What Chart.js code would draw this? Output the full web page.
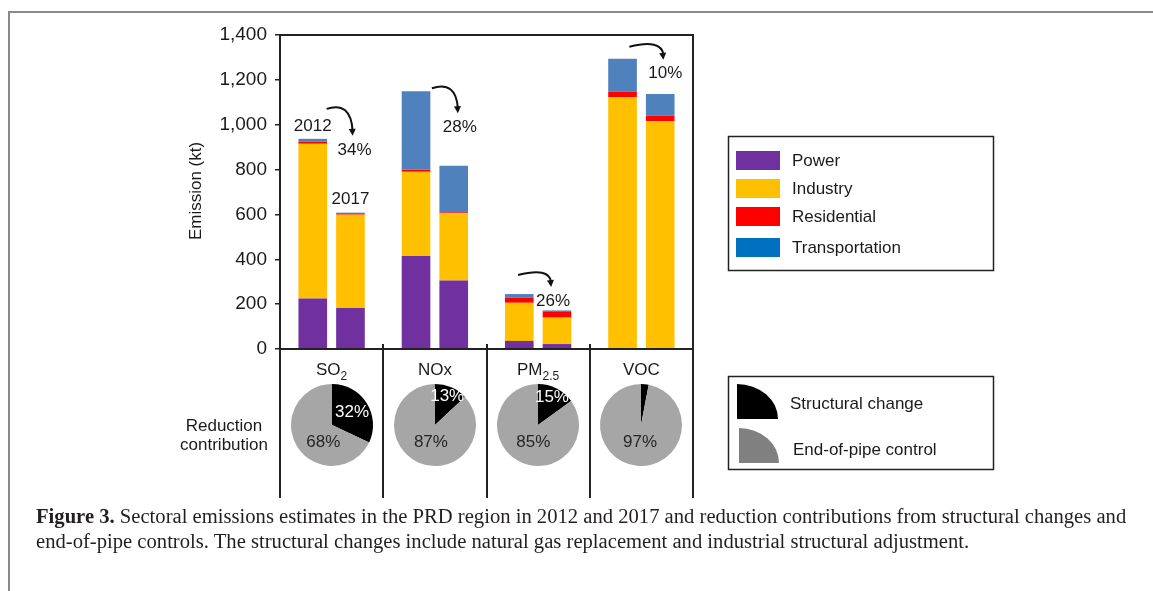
<!DOCTYPE html>
<html>
<head>
<meta charset="utf-8">
<script src="https://cdn.jsdelivr.net/npm/chart.js@4.4.1/dist/chart.umd.min.js"></script>
<style>
  html, body { margin: 0; padding: 0; background: #fff; }
  #wrap { position: relative; width: 1153px; height: 591px; overflow: hidden; }
  #main { position: absolute; left: 0; top: 0; }
  .pie { position: absolute; }
  .cap { position: absolute; left: 36px; white-space: nowrap; font-family: "Liberation Serif", serif;
         font-size: 20px; line-height: 24px; color: #231f20; transform-origin: 0 0; }
</style>
</head>
<body>
<div id="wrap">
  <canvas id="main" width="1153" height="591"></canvas>
  <canvas class="pie" id="pie0" width="100" height="100"></canvas>
  <canvas class="pie" id="pie1" width="100" height="100"></canvas>
  <canvas class="pie" id="pie2" width="100" height="100"></canvas>
  <canvas class="pie" id="pie3" width="100" height="100"></canvas>
  <div class="cap" id="cap1" style="top:504px"><b>Figure 3.</b> Sectoral emissions estimates in the PRD region in 2012 and 2017 and reduction contributions from structural changes and</div>
  <div class="cap" id="cap2" style="top:529px">end-of-pipe controls. The structural changes include natural gas replacement and industrial structural adjustment.</div>
</div>
<script>
// pollutant categories (display split into main text + subscript)
const pollutants = ["SO2", "NOx", "PM2.5", "VOC"];
const pollutantMain = ["SO", "NOx", "PM", "VOC"];
const pollutantSub = ["2", "", "2.5", ""];
const sectors = ["Power", "Industry", "Residential", "Transportation"];

// emissions, kt
const power2012 = [225, 415, 36, 0];
const industry2012 = [690, 375, 170, 1123];
const residential2012 = [10, 9, 23, 24];
const transport2012 = [12, 350, 16, 147];
const power2017 = [183, 305, 22, 0];
const industry2017 = [416, 300, 118, 1016];
const residential2017 = [6, 4, 25, 24];
const transport2017 = [3, 208, 7, 97];

const reductionLabels = ["34%", "28%", "26%", "10%"];

// reduction contribution, %
const structuralShare = [32, 13, 15, 3];
const endOfPipeShare = [68, 87, 85, 97];

const barColors = ["#7030a0", "#ffc000", "#ff0000", "#4f81bd"];
const legendColors = ["#7030a0", "#ffc000", "#ff0000", "#0070c0"];
const pieColors = ["#000000", "#a6a6a6"];

// arrow placement, px relative to (panel centre, top of 2012 bar)
const arrowLayout = [
  { sx: -5, sy: -30, ex: 21, ey: -3 },
  { sx: -3, sy: -3, ex: 23, ey: 22 },
  { sx: -20, sy: -19, ex: 13, ey: -7 },
  { sx: -12, sy: -12, ex: 22, ey: 1 },
];

const FONT = "Liberation Sans";
const INK = "#1a1a1a";

function drawArrow(ctx, sx, sy, ex, ey) {
  const cx = ex - 2, cy = sy - 8;
  ctx.beginPath();
  ctx.moveTo(sx, sy);
  ctx.quadraticCurveTo(cx, cy, ex, ey - 5);
  ctx.stroke();
  const ang = Math.atan2(ey - cy, ex - cx);
  const L = 7, W = 3.5;
  ctx.beginPath();
  ctx.moveTo(ex, ey);
  ctx.lineTo(ex - L * Math.cos(ang) + W * Math.sin(ang), ey - L * Math.sin(ang) - W * Math.cos(ang));
  ctx.lineTo(ex - L * Math.cos(ang) - W * Math.sin(ang), ey - L * Math.sin(ang) + W * Math.cos(ang));
  ctx.closePath();
  ctx.fill();
}

const decorPlugin = {
  id: "decor",
  afterDatasetsDraw: function (chart) {
    const ctx = chart.ctx;
    const area = chart.chartArea;
    const xs = chart.scales.x;
    const n = pollutants.length;
    const step = (area.right - area.left) / n;
    const bottomY = 498;

    ctx.save();
    // page frame
    ctx.strokeStyle = "#8a8a8a";
    ctx.lineWidth = 2;
    ctx.beginPath();
    ctx.moveTo(9, 591); ctx.lineTo(9, 12); ctx.lineTo(1153, 12);
    ctx.stroke();

    // plot frame and panel dividers
    ctx.strokeStyle = "#222";
    ctx.lineWidth = 2;
    ctx.beginPath();
    ctx.moveTo(area.left, bottomY); ctx.lineTo(area.left, area.top); ctx.lineTo(area.right, area.top);
    ctx.lineTo(area.right, bottomY);
    ctx.moveTo(area.left, area.bottom); ctx.lineTo(area.right, area.bottom);
    for (let i = 1; i < n; i++) {
      const x = Math.round(area.left + i * step);
      ctx.moveTo(x, area.bottom - 5); ctx.lineTo(x, bottomY);
    }
    ctx.stroke();

    // category labels with subscripts
    ctx.fillStyle = INK;
    ctx.textBaseline = "middle";
    for (let i = 0; i < n; i++) {
      const cx = xs.getPixelForValue(i);
      ctx.font = "17px " + FONT;
      const w1 = ctx.measureText(pollutantMain[i]).width;
      ctx.font = "12px " + FONT;
      const w2 = pollutantSub[i] ? ctx.measureText(pollutantSub[i]).width : 0;
      const x0 = cx - (w1 + w2) / 2;
      ctx.textAlign = "left";
      ctx.font = "17px " + FONT;
      ctx.fillText(pollutantMain[i], x0, 370);
      if (w2) {
        ctx.font = "12px " + FONT;
        ctx.fillText(pollutantSub[i], x0 + w1, 377);
      }
    }

    // row label for pies
    ctx.textAlign = "center";
    ctx.font = "17px " + FONT;
    ctx.fillText("Reduction", 224, 426);
    ctx.fillText("contribution", 224, 445);

    // y axis title
    ctx.save();
    ctx.translate(196, 191);
    ctx.rotate(-Math.PI / 2);
    ctx.fillText("Emission (kt)", 0, 0);
    ctx.restore();

    // year labels above the SO2 bars
    const top12 = chart.getDatasetMeta(3).data;
    const top17 = chart.getDatasetMeta(7).data;
    ctx.fillText("2012", top12[0].x, top12[0].y - 13);
    ctx.fillText("2017", top17[0].x, top17[0].y - 13);

    // reduction arrows and percentages
    ctx.lineWidth = 2;
    ctx.strokeStyle = "#111";
    ctx.fillStyle = "#111";
    for (let i = 0; i < n; i++) {
      const c = xs.getPixelForValue(i);
      const t = top12[i].y;
      const a = arrowLayout[i];
      drawArrow(ctx, c + a.sx, t + a.sy, c + a.ex, t + a.ey);
      ctx.fillStyle = INK;
      ctx.fillText(reductionLabels[i], c + a.ex + 2, t + a.ey + 14);
      ctx.fillStyle = "#111";
    }

    // sector legend
    ctx.lineWidth = 1.5;
    ctx.strokeStyle = "#222";
    ctx.strokeRect(728.5, 136.5, 265, 134);
    const swTop = [151, 179, 207, 238];
    ctx.textAlign = "left";
    for (let i = 0; i < sectors.length; i++) {
      ctx.fillStyle = legendColors[i];
      ctx.fillRect(736, swTop[i], 44, 19);
      ctx.fillStyle = INK;
      ctx.fillText(sectors[i], 792, swTop[i] + 10);
    }

    // pie legend
    ctx.strokeRect(728.5, 376.5, 265, 93);
    ctx.fillStyle = "#000";
    ctx.beginPath();
    ctx.moveTo(737, 419);
    ctx.ellipse(737, 419, 41, 35, 0, -Math.PI / 2, 0);
    ctx.closePath();
    ctx.fill();
    ctx.fillStyle = "#808080";
    ctx.beginPath();
    ctx.moveTo(739, 463);
    ctx.ellipse(739, 463, 40, 35, 0, -Math.PI / 2, 0);
    ctx.closePath();
    ctx.fill();
    ctx.fillStyle = INK;
    ctx.fillText("Structural change", 790, 404);
    ctx.fillText("End-of-pipe control", 793, 450);
    ctx.restore();
  },
};

function barSet(label, data, color, stack) {
  return { label: label, data: data, backgroundColor: color, borderWidth: 0, stack: stack,
           categoryPercentage: 0.73, barPercentage: 0.76 };
}

const mainChart = new Chart(document.getElementById("main"), {
  type: "bar",
  data: {
    labels: pollutants,
    datasets: [
      barSet("Power 2012", power2012, barColors[0], "2012"),
      barSet("Industry 2012", industry2012, barColors[1], "2012"),
      barSet("Residential 2012", residential2012, barColors[2], "2012"),
      barSet("Transportation 2012", transport2012, barColors[3], "2012"),
      barSet("Power 2017", power2017, barColors[0], "2017"),
      barSet("Industry 2017", industry2017, barColors[1], "2017"),
      barSet("Residential 2017", residential2017, barColors[2], "2017"),
      barSet("Transportation 2017", transport2017, barColors[3], "2017"),
    ],
  },
  options: {
    responsive: false,
    animation: false,
    layout: { padding: { left: 0, top: 35, right: 460, bottom: 0 } },
    plugins: { legend: { display: false }, tooltip: { enabled: false } },
    scales: {
      x: {
        stacked: true,
        ticks: { display: false },
        grid: { display: false },
        border: { display: false },
        afterFit: function (s) { s.height = 242; },
      },
      y: {
        stacked: true,
        min: 0,
        max: 1400,
        ticks: {
          stepSize: 200,
          padding: 8,
          color: INK,
          font: { family: FONT, size: 19 },
          callback: function (v) { return v.toLocaleString("en-US"); },
        },
        grid: { drawOnChartArea: false, tickLength: 5, color: "#222", lineWidth: 1.5 },
        border: { display: false },
        afterFit: function (s) { s.width = 280; },
      },
    },
  },
  plugins: [decorPlugin],
});

const pieLabelPlugin = {
  id: "pieLabels",
  afterDatasetsDraw: function (chart) {
    const ctx = chart.ctx;
    const arcs = chart.getDatasetMeta(0).data;
    const vals = chart.data.datasets[0].data;
    ctx.save();
    ctx.font = "17px " + FONT;
    ctx.textAlign = "center";
    ctx.textBaseline = "middle";
    arcs.forEach(function (arc, i) {
      if (vals[i] < 5) return;
      const r = arc.outerRadius;
      const mid = (arc.startAngle + arc.endAngle) / 2;
      let x, y;
      if (i === 0) {
        const rr = vals[i] > 25 ? 0.58 * r : 0.75 * r;
        x = arc.x + Math.cos(mid) * rr;
        y = arc.y + Math.sin(mid) * rr;
        ctx.fillStyle = "#fff";
      } else {
        x = arc.x + Math.cos(mid) * 0.25 * r;
        y = arc.y + 0.43 * r;
        ctx.fillStyle = "#262626";
      }
      ctx.fillText(vals[i] + "%", x, y);
    });
    ctx.restore();
  },
};

for (let i = 0; i < pollutants.length; i++) {
  const cv = document.getElementById("pie" + i);
  cv.style.left = Math.round(mainChart.scales.x.getPixelForValue(i) - 50) + "px";
  cv.style.top = "375px";
  new Chart(cv, {
    type: "pie",
    data: {
      labels: ["Structural change", "End-of-pipe control"],
      datasets: [{ data: [structuralShare[i], endOfPipeShare[i]], backgroundColor: pieColors, borderWidth: 0 }],
    },
    options: {
      responsive: false,
      animation: false,
      layout: { padding: 9 },
      plugins: { legend: { display: false }, tooltip: { enabled: false } },
    },
    plugins: [pieLabelPlugin],
  });
}

// fit caption lines to the printed width
const cap1 = document.getElementById("cap1");
const cap2 = document.getElementById("cap2");
const k = 1090 / cap1.offsetWidth;
cap1.style.transform = "scaleX(" + k + ")";
cap2.style.transform = "scaleX(" + k + ")";
</script>
</body>
</html>
